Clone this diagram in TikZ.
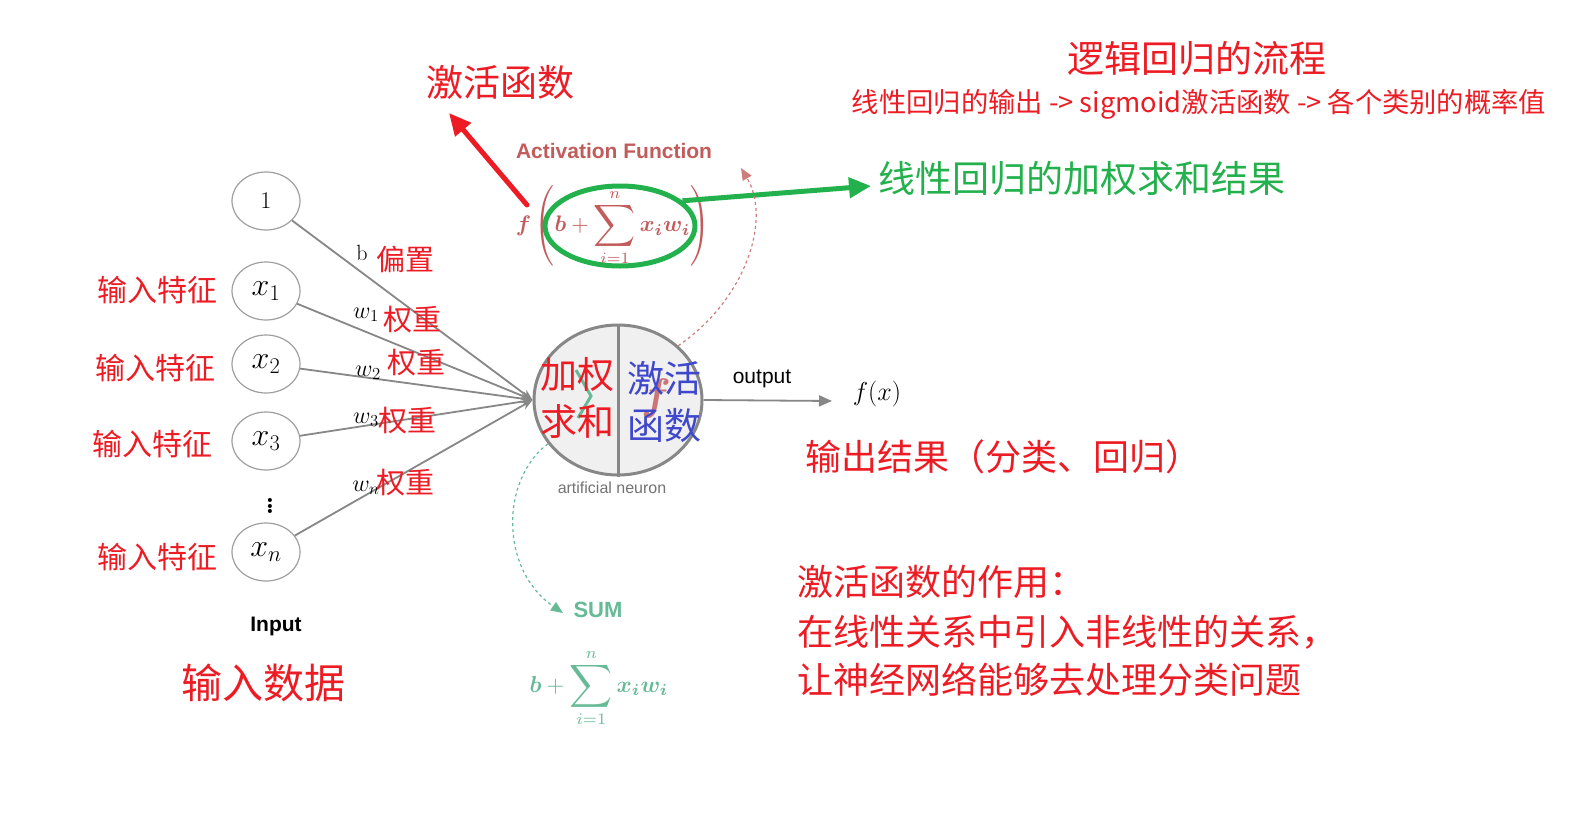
\RequirePackage{fix-cm}
\documentclass[tikz,border=0pt]{standalone}
\usepackage{amsmath,bm}
\usepackage{fontspec}
\setsansfont{Liberation Sans}
\newfontfamily\cjk{Noto Sans CJK SC}
\usetikzlibrary{arrows.meta,shapes.geometric}
\definecolor{cred}{RGB}{237,28,36}
\definecolor{cgreen}{RGB}{34,177,76}
\definecolor{cblue}{RGB}{63,72,204}
\definecolor{fred}{RGB}{194,92,92}
\definecolor{mint}{RGB}{102,186,150}
\definecolor{egray}{RGB}{135,135,135}
\newcommand{\fs}[1]{\fontsize{#1}{#1}\selectfont}
\newcommand{\mybigsum}{\mathop{\vcenter{\hbox{\scalebox{1.3}{$\displaystyle\sum$}}}}\limits}
\begin{document}
\begin{tikzpicture}[x=1pt,y=-1pt,
  cjkred/.style={font=\cjk\fs{30}, text=cred, inner sep=0},
  bigred/.style={font=\cjk\fs{37}, text=cred, inner sep=0},
  inputnode/.style={ellipse, draw=egray!80, line width=1.2, minimum width=68, minimum height=58, inner sep=0, font=\fs{32}},
  wlabel/.style={font=\fs{24}, inner sep=0},
  edgeline/.style={draw=egray, line width=1.8, -{Stealth[length=11,width=9]}},
]
\fill[white] (0,0) rectangle (1577,822);
\useasboundingbox (0,0) rectangle (1577,822);

% titles
\node[bigred] (title) at (1197,58) {逻辑回归的流程};
\node[font=\cjk\fs{27.3}, text=cred, inner sep=0] (subtitle) at (1199,104) {线性回归的输出 -> sigmoid激活函数 -> 各个类别的概率值};

% activation function labels
\node[bigred] (acttext) at (500,82) {激活函数};
\node[font=\sffamily\bfseries\fs{21}, text=fred, inner sep=0] (acttitle) at (614,151) {Activation Function};
\node[font=\fs{10}, text=fred, inner sep=0, scale=2.25, transform shape] (formula) at (613,226) {$\displaystyle \bm{f}\left(\bm{b}+\mybigsum_{i=1}^{n}\bm{x_i w_i}\right)$};
\node[ellipse, draw=cgreen, line width=5, minimum width=150, minimum height=80, inner sep=0] (gell) at (620,226) {};
\coordinate (redstart) at (527,205);
\coordinate (redtip) at (449,113);
\draw[cred, line width=5, line cap=round, -{Triangle[length=22,width=20]}] (redstart) -- (redtip);
\node[font=\cjk\fs{37}, text=cgreen, inner sep=0, anchor=west] (gtext) at (878,178) {线性回归的加权求和结果};
\coordinate (gtip) at (871,186);
\draw[cgreen, line width=5, -{Triangle[length=22,width=20]}] (gell.22) -- (gtip);

% inputs
\node[inputnode, font=\fs{24}] (n1) at (266,201) {1};
\node[inputnode] (nx1) at (266,291) {$x_1$};
\node[inputnode] (nx2) at (266,364) {$x_2$};
\node[inputnode] (nx3) at (266,441) {$x_3$};
\node[inputnode] (nxn) at (266,552) {$x_n$};
\node[font=\bfseries\fs{28}, inner sep=0] (dots) at (270,503) {$\vdots$};
\node[font=\sffamily\bfseries\fs{21}, inner sep=0] (inputlbl) at (276,626) {Input};
\node[bigred, font=\cjk\fs{41}] (inputdata) at (263,683) {输入数据};
\node[cjkred] (f1) at (157,290) {输入特征};
\node[cjkred] (f2) at (155,368) {输入特征};
\node[cjkred] (f3) at (152,444) {输入特征};
\node[cjkred] (f4) at (157,557) {输入特征};

% neuron
\node[ellipse, draw=egray, fill=black!6, line width=3, minimum width=168, minimum height=150, inner sep=0] (neuron) at (618,400) {};
\draw[egray, line width=3] (neuron.north) -- (neuron.south);
\draw[mint, line width=3] (576,370) -- (591,396) -- (578,418);
\node[font=\fs{44}, text=fred!85, inner sep=0] (fsym) at (656,398) {$\bm{f}$};
\node[bigred] (sum1) at (577,375) {加权};
\node[bigred] (sum2) at (577,422) {求和};
\node[bigred, text=cblue] (act1) at (664,378) {激活};
\node[bigred, text=cblue] (act2) at (664,425) {函数};
\node[font=\sffamily\fs{16}, text=black!55, inner sep=0] (neuronlbl) at (612,488) {artificial neuron};

% edges
\draw[edgeline] (n1) -- (neuron.west);
\draw[edgeline] (nx1) -- (neuron.west);
\draw[edgeline] (nx2) -- (neuron.west);
\draw[edgeline] (nx3) -- (neuron.west);
\draw[edgeline] (nxn) -- (neuron.west);

% weight labels
\node[wlabel, font=\fs{22}] (lb) at (362,253) {b};
\node[cjkred, font=\cjk\fs{29}] (lbc) at (405,259) {偏置};
\node[wlabel] (lw1) at (366,315) {$w_1$};
\node[cjkred, font=\cjk\fs{29}] (lw1c) at (412,320) {权重};
\node[wlabel] (lw2) at (368,373) {$w_2$};
\node[cjkred, font=\cjk\fs{29}] (lw2c) at (416,363) {权重};
\node[wlabel] (lw3) at (366,420) {$w_3$};
\node[cjkred, font=\cjk\fs{29}] (lw3c) at (407,421) {权重};
\node[wlabel] (lwn) at (366,488) {$w_n$};
\node[cjkred, font=\cjk\fs{29}] (lwnc) at (405,483) {权重};

% output
\node[font=\fs{26}, inner sep=0] (fx) at (877,394) {$f(x)$};
\node[font=\sffamily\fs{21}, inner sep=0] (outlbl) at (762,379) {output};
\coordinate (outend) at (832,401);
\draw[egray, line width=1.8, -{Triangle[length=13,width=11]}] (neuron.east) -- (outend);
\node[bigred, font=\cjk\fs{36}] (outres) at (1003,457) {输出结果（分类、回归）};

% dashed curves
\coordinate (rtip) at (741,168);
\draw[fred!80, dashed, line width=1.2, -{Triangle[length=12,width=10]}] (neuron.42) .. controls (745,300) and (772,220) .. (rtip);
\node[font=\sffamily\bfseries\fs{22}, text=mint, inner sep=0] (sumlbl) at (598,610) {SUM};
\coordinate (stip) at (563,613);
\draw[mint, dashed, line width=1.2, -{Triangle[length=12,width=10]}] (neuron.212) .. controls (500,480) and (500,570) .. (stip);
\node[font=\fs{10}, text=mint, inner sep=0, scale=2.3, transform shape] (sumformula) at (599,688) {$\displaystyle \bm{b}+\mybigsum_{i=1}^{n}\bm{x_i w_i}$};

% explanation
\node[bigred, font=\cjk\fs{36}, anchor=west] (expl1) at (797,582) {激活函数的作用：};
\node[bigred, font=\cjk\fs{36}, anchor=west] (expl2) at (797,632) {在线性关系中引入非线性的关系，};
\node[bigred, font=\cjk\fs{36}, anchor=west] (expl3) at (797,680) {让神经网络能够去处理分类问题};
\end{tikzpicture}
\end{document}
